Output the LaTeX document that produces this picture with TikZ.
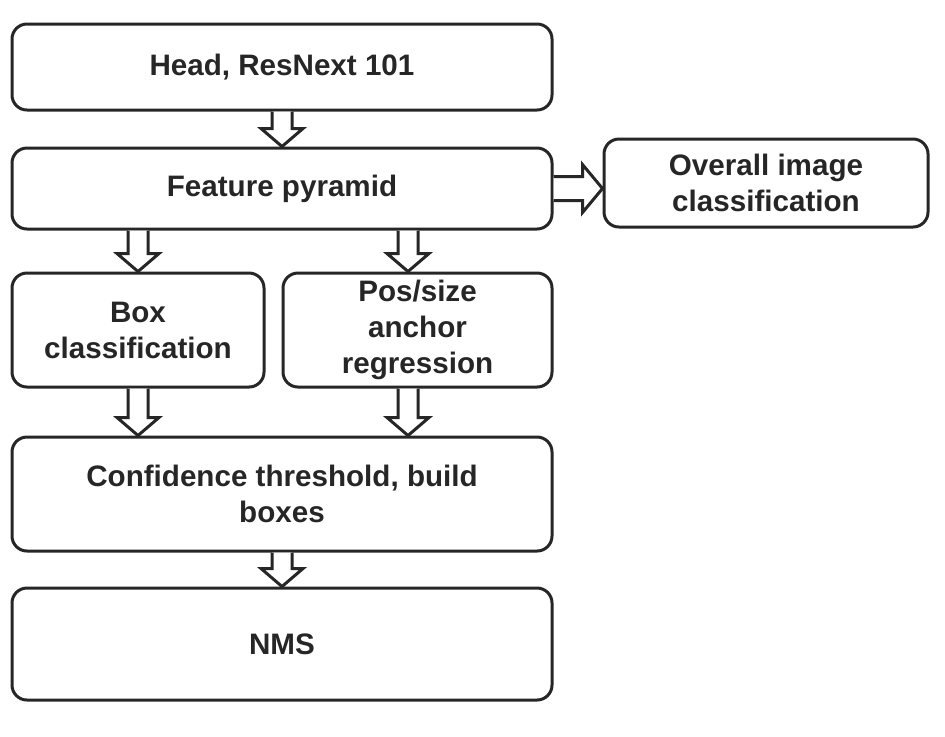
\documentclass[tikz,border=0pt]{standalone}
\usepackage{fontspec}
\setmainfont{Liberation Sans}
\usetikzlibrary{calc}
\definecolor{ink}{HTML}{262626}

\newcommand{\vblock}[2]{\draw[blockarr] ($(#1)+(-10,0)$) -- ($(#2)+(-10,-18)$) -- ($(#2)+(-21,-18)$) -- (#2) -- ($(#2)+(21,-18)$) -- ($(#2)+(10,-18)$) -- ($(#1)+(10,0)$);}
\newcommand{\hblock}[2]{\draw[blockarr] ($(#1)+(0,-12)$) -- ($(#2)+(-20,-12)$) -- ($(#2)+(-20,-24)$) -- (#2) -- ($(#2)+(-20,24)$) -- ($(#2)+(-20,12)$) -- ($(#1)+(0,12)$);}

\begin{document}
\begin{tikzpicture}[x=0.5pt,y=-0.5pt,
  stage/.style={draw=ink,line width=1.5pt,rounded corners=7.5pt,align=center,inner sep=0pt,
    text=ink,font=\fontsize{14.8pt}{18pt}\selectfont\bfseries},
  blockarr/.style={draw=ink,line width=1.5pt,line join=miter,fill=white}]
\useasboundingbox (0,0) rectangle (945,736);

\node[stage,minimum width=270pt,minimum height=43pt] (head) at (282,67) {Head, ResNext 101};
\node[stage,minimum width=270pt,minimum height=40.5pt] (feat) at (282,188.5) {Feature pyramid};
\node[stage,minimum width=162pt,minimum height=44pt] (over) at (766,183) {Overall image\\classification};
\node[stage,minimum width=126pt,minimum height=57pt] (box) at (138,330) {Box\\classification};
\node[stage,minimum width=134.5pt,minimum height=57pt] (pos) at (417.5,330) {Pos/size\\anchor\\regression};
\node[stage,minimum width=270pt,minimum height=57pt] (conf) at (282,494) {Confidence threshold, build\\boxes};
\node[stage,minimum width=270pt,minimum height=56pt] (nms) at (282,644) {NMS};

\coordinate (posin) at ($(pos.north)+(-9.5,0)$);
\coordinate (posout) at ($(pos.south)+(-9.5,0)$);

\vblock{head.south}{feat.north}
\hblock{feat.east}{over.west |- feat.east}
\vblock{box.north |- feat.south}{box.north}
\vblock{posin |- feat.south}{posin}
\vblock{box.south}{box.south |- conf.north}
\vblock{posout}{posout |- conf.north}
\vblock{conf.south}{nms.north}
\end{tikzpicture}
\end{document}
